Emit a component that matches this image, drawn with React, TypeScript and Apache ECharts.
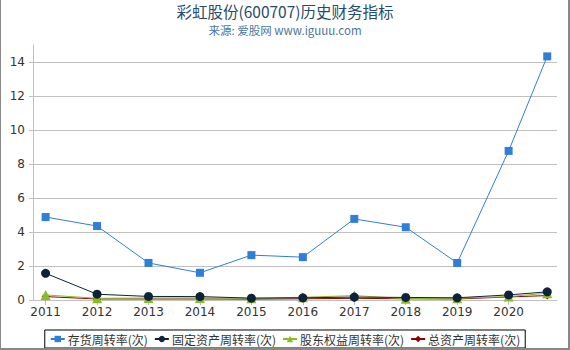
import React, { useEffect, useRef } from "react";
import * as echarts from "echarts";

const years = [2011, 2012, 2013, 2014, 2015, 2016, 2017, 2018, 2019, 2020, 2020.75];
const tickYears = [2011, 2012, 2013, 2014, 2015, 2016, 2017, 2018, 2019, 2020];
const inventoryTurnover = [4.88, 4.35, 2.18, 1.6, 2.64, 2.52, 4.77, 4.28, 2.18, 8.77, 14.33];
const fixedAssetTurnover = [1.57, 0.34, 0.21, 0.2, 0.11, 0.13, 0.17, 0.15, 0.13, 0.3, 0.48];
const equityTurnover = [0.3, 0.1, 0.12, 0.12, 0.1, 0.16, 0.26, 0.08, 0.1, 0.2, 0.4];
const totalAssetTurnover = [0.2, 0.06, 0.06, 0.06, 0.05, 0.07, 0.1, 0.07, 0.06, 0.18, 0.26];
const seriesNames = ["存货周转率(次)", "固定资产周转率(次)", "股东权益周转率(次)", "总资产周转率(次)"];

export default function App() {
  const ref = useRef<HTMLDivElement>(null);
  useEffect(() => {
    document.body.style.margin = "0";
    if (!ref.current) return;
    const chart = echarts.init(ref.current, null, { renderer: "svg" });
    const mk = (vals: number[]) => years.map((y, i) => [y, vals[i]]);
    const colors = ["#2f7ed8", "#0d233a", "#8bbc21", "#910000"];
    const symbols = ["rect", "circle", "triangle", "diamond"];
    const datasets = [inventoryTurnover, fixedAssetTurnover, equityTurnover, totalAssetTurnover];
    chart.setOption({
      animation: false,
      color: colors,
      title: [
        {
          text: "彩虹股份(600707)历史财务指标",
          left: "center",
          top: 0,
          padding: [2, 5, 0, 5],
          textStyle: { fontSize: 15.5, lineHeight: 17, fontWeight: "normal", color: "#274b6d", fontFamily: "Noto Sans CJK SC" },
        },
        {
          text: "来源: 爱股网 www.iguuu.com",
          left: "center",
          top: 23,
          padding: [0, 5, 0, 5],
          textStyle: { fontSize: 11.5, lineHeight: 14, fontWeight: "normal", color: "#4d759e", fontFamily: "Noto Sans CJK SC" },
        },
      ],
      legend: {
        bottom: 2,
        left: "center",
        borderColor: "#000",
        borderWidth: 1,
        borderRadius: 0,
        padding: [3, 5],
        itemGap: 6,
        itemWidth: 14,
        itemHeight: 8,
        textStyle: { fontSize: 12, color: "#333", fontFamily: "Noto Sans CJK SC", padding: [0, 0, 0, -2] },
        data: seriesNames,
      },
      grid: { left: 33, right: 13, top: 45, bottom: 50, containLabel: false },
      xAxis: {
        type: "value",
        min: 2010.755,
        max: 2020.94,
        axisLine: { show: true, lineStyle: { color: "#c0c0c0" } },
        axisTick: { show: true, length: 5, lineStyle: { color: "#c0c0c0" }, customValues: tickYears },
        axisLabel: {
          customValues: tickYears,
          color: "#333",
          fontSize: 12,
          fontFamily: "DejaVu Sans",
          margin: 6,
          formatter: (v: number) => String(Math.round(v)),
        },
        splitLine: { show: false },
      },
      yAxis: {
        type: "value",
        min: 0,
        max: 15,
        interval: 2,
        axisLine: { show: true, lineStyle: { color: "#c0c0c0" } },
        axisTick: { show: true, length: 4, lineStyle: { color: "#c0c0c0" } },
        axisLabel: { color: "#333", fontSize: 12, fontFamily: "DejaVu Sans", margin: 8, showMaxLabel: false },
        splitLine: { show: true, showMaxLine: false, lineStyle: { color: "#c0c0c0" } },
      },
      series: datasets.map((d, i) => ({
        name: seriesNames[i],
        type: "line",
        data: mk(d),
        symbol: symbols[i],
        symbolSize: i === 0 ? 8 : i === 1 ? 9 : i === 2 ? 10 : 8,
        lineStyle: { width: 1, color: colors[i] },
        itemStyle: { color: colors[i] },
        z: 10 - i,
      })),
    });
    return () => chart.dispose();
  }, []);
  return (
    <div style={{ position: "relative", width: 570, height: 350 }}>
      <div ref={ref} style={{ width: 570, height: 350 }} />
      <div
        style={{
          position: "absolute",
          left: 0,
          top: 0,
          width: 570,
          height: 350,
          boxSizing: "border-box",
          borderLeft: "1px solid #888",
          borderRight: "2px solid #888",
          borderBottom: "2px solid #888",
          pointerEvents: "none",
        }}
      />
    </div>
  );
}
